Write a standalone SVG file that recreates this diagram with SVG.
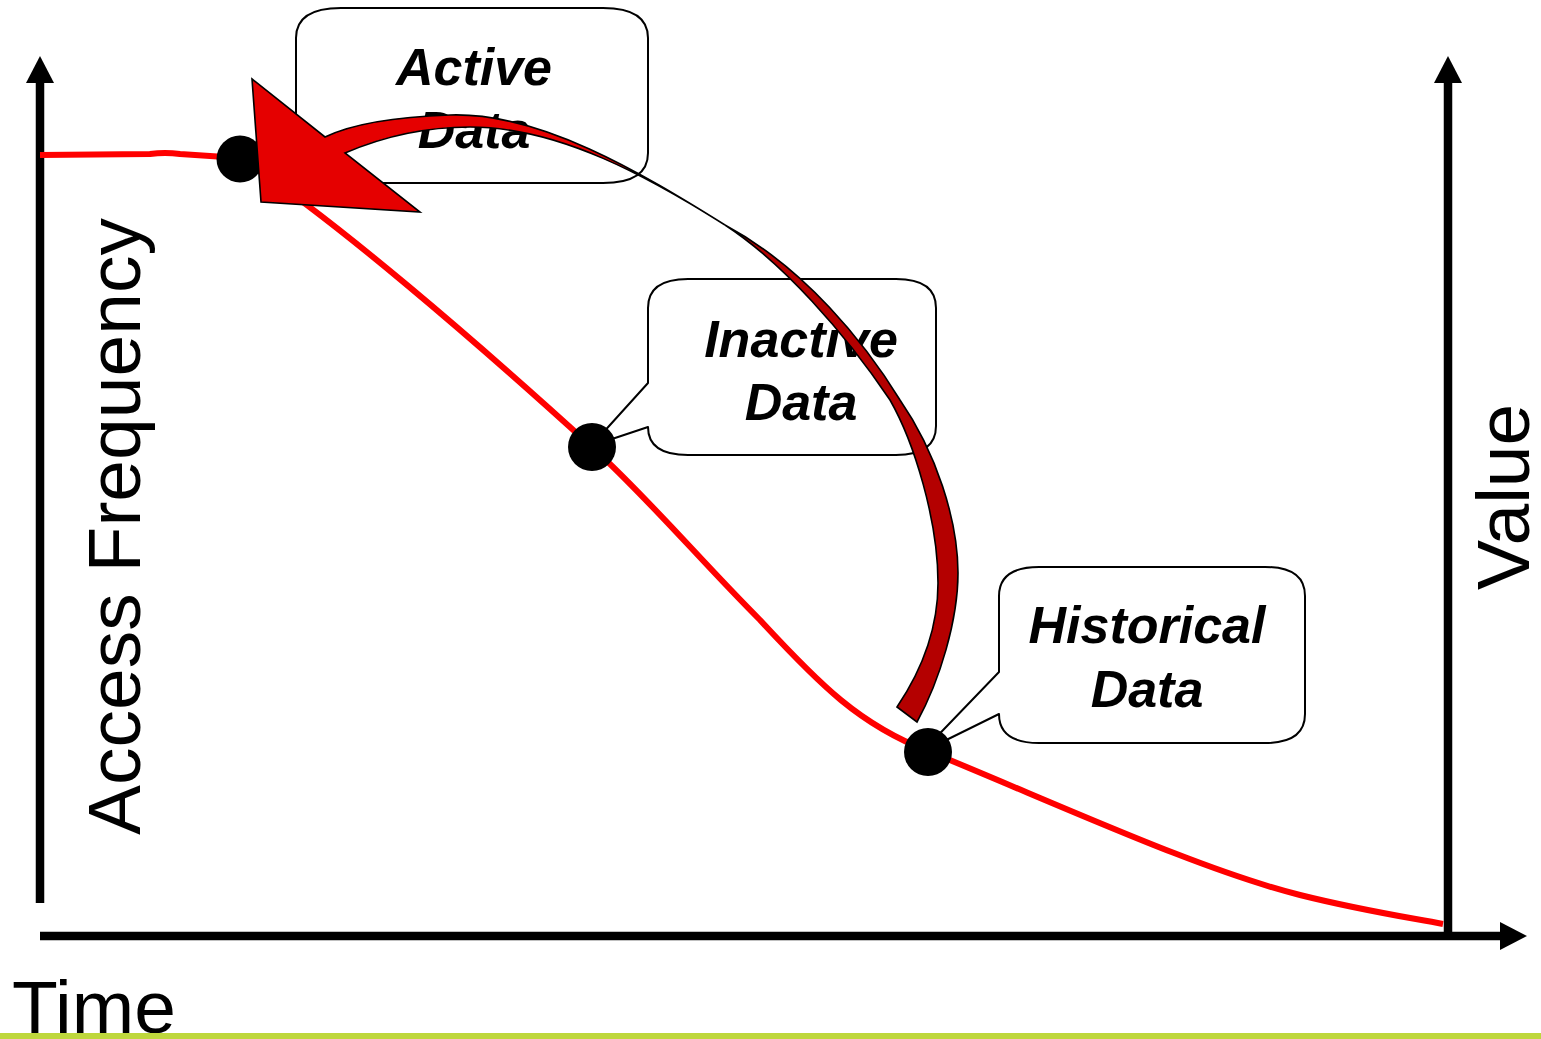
<svg xmlns="http://www.w3.org/2000/svg" width="1541" height="1039" viewBox="0 0 1541 1039">
  <style>
    .axis { stroke: #000; stroke-width: 8.5; fill: none; }
    .axis-head { fill: #000; }
    .axis-label { font-family: "Liberation Sans", Arial, sans-serif; font-size: 75px; fill: #000; }
    .callout { fill: #fff; stroke: #000; stroke-width: 2; stroke-linejoin: round; }
    .callout-text { font-family: "Liberation Sans", Arial, sans-serif; font-size: 52px; font-weight: bold; font-style: italic; fill: #000; text-anchor: middle; }
    .dot { fill: #000; }
    .trend { fill: none; stroke: #ff0000; stroke-width: 6; stroke-linejoin: round; stroke-linecap: butt; }
    .arrow-front { fill: #e50000; stroke: #000; stroke-width: 1.6; stroke-linejoin: miter; }
    .arrow-back { fill: #b40000; stroke: #000; stroke-width: 1.6; stroke-linejoin: miter; }
  </style>

  <rect x="0" y="0" width="1541" height="1039" fill="#fff"/>

  <!-- Axes -->
  <g id="axes">
    <line class="axis" x1="40" y1="80" x2="40" y2="903"/>
    <polygon class="axis-head" points="40,56 26,83 54,83"/>
    <line class="axis" x1="40" y1="936" x2="1503" y2="936"/>
    <polygon class="axis-head" points="1527,936 1500,922 1500,950"/>
    <line class="axis" x1="1448" y1="80" x2="1448" y2="936"/>
    <polygon class="axis-head" points="1448,56 1434,83 1462,83"/>
  </g>

  <g id="axis-labels">
    <text class="axis-label" transform="translate(140,835) rotate(-90)">Access Frequency</text>
    <text class="axis-label" transform="translate(1529,590) rotate(-90)">Value</text>
    <text class="axis-label" x="12" y="1033">Time</text>
  </g>

  <!-- Access-frequency curve -->
  <g id="connectors">
    <path class="trend" d="M40,155 L150,154 Q165,152 180,154 L240,158 C330,215 480,345 592,447 C650,500 700,560 760,620 C820,685 860,725 928,751 C1060,805 1200,870 1300,895 C1360,910 1400,916 1443,924"/>
  </g>

  <!-- Callouts -->
  <g id="node-active">
    <path class="callout" d="M341,8 L603,8 Q648,8 648,38 L648,153 Q648,183 603,183 L341,183 Q296,183 296,153 L296,155 L240,158 L296,120 L296,38 Q296,8 341,8 Z"/>
    <text class="callout-text" x="474" y="85">Active</text>
    <text class="callout-text" x="474" y="148">Data</text>
    <circle class="dot" cx="240" cy="159" r="23.5"/>
  </g>

  <g id="node-inactive">
    <path class="callout" d="M688,279 L896,279 Q936,279 936,308 L936,426 Q936,455 896,455 L688,455 Q648,455 648,427 L591,446 L648,383 L648,308 Q648,279 688,279 Z"/>
    <text class="callout-text" x="801" y="357">Inactive</text>
    <text class="callout-text" x="801" y="420">Data</text>
    <circle class="dot" cx="592" cy="447" r="24"/>
  </g>

  <g id="node-historical">
    <path class="callout" d="M1039,567 L1265,567 Q1305,567 1305,596 L1305,714 Q1305,743 1265,743 L1039,743 Q999,743 999,714 L922,752 L999,672 L999,596 Q999,567 1039,567 Z"/>
    <text class="callout-text" x="1147" y="643">Historical</text>
    <text class="callout-text" x="1147" y="707">Data</text>
    <circle class="dot" cx="928" cy="752" r="24"/>
  </g>

  <!-- Curved return arrow from historical back to active; the shaft twists at mid-length -->
  <g id="return-arrow">
    <path class="arrow-back" d="M725,225 C782,262 845,333 890,400 C914,442 938,520 938,583 C938,630 922,670 897,707 L917,722 C940,680 958,620 958,573 C958,520 936,452 900,400 C865,343 805,268 725,225 Z"/>
    <path class="arrow-front" d="M252,79 L325,137 C350,125 390,117 450,115 C540,112 640,172 725,225 C650,178 560,127 470,127 C420,127 380,138 345,153 L420,212 L261,202 Z"/>
  </g>

  <rect x="0" y="1033" width="1541" height="6" fill="#bed73c"/>
</svg>
